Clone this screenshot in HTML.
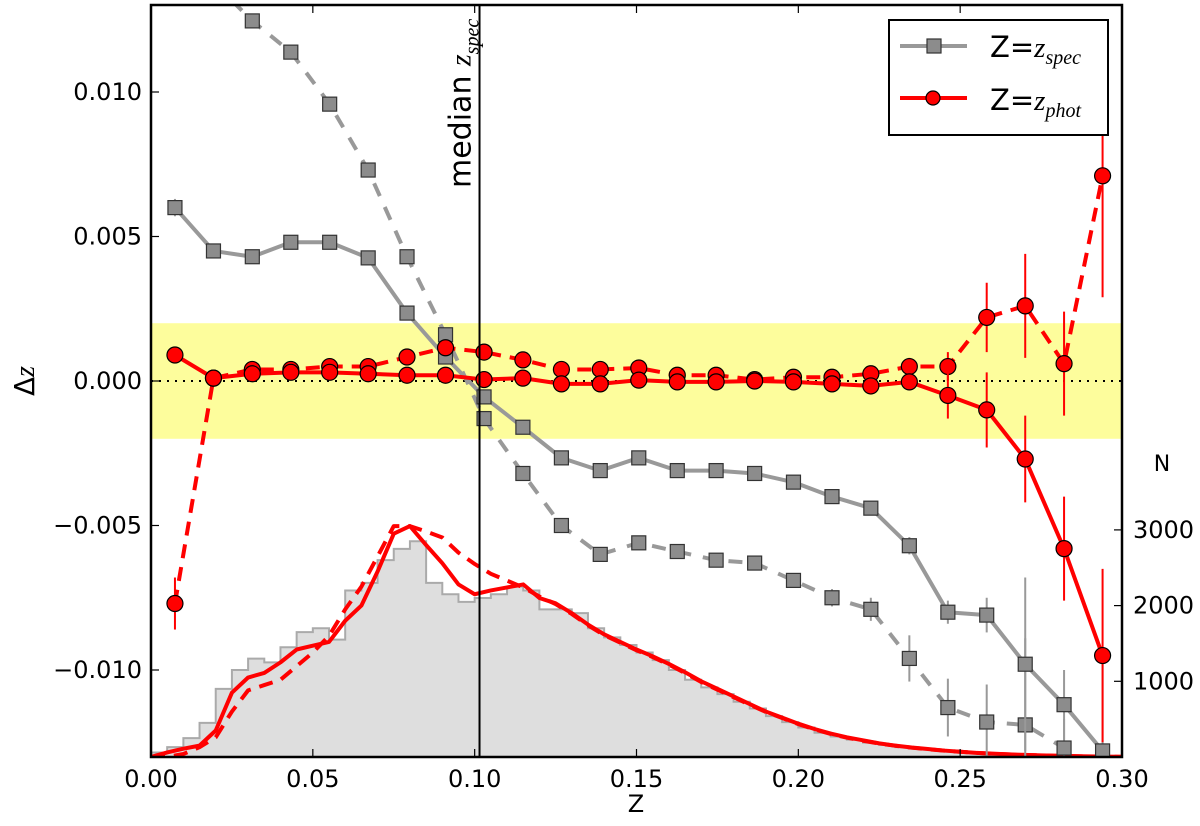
<!DOCTYPE html>
<html><head><meta charset="utf-8"><style>
html,body{margin:0;padding:0;background:#fff;}
svg{display:block;font-family:"DejaVu Sans","Liberation Sans",sans-serif;}
</style></head><body>
<svg id="chart" width="1200" height="826" viewBox="0 0 1200 826" xmlns="http://www.w3.org/2000/svg"></svg>
<script>
const zBins = [0.0074,0.0193,0.0313,0.0432,0.0552,0.0671,0.0791,0.0910,0.1029,0.1149,0.1268,0.1388,0.1507,0.1626,0.1746,0.1865,0.1985,0.2104,0.2224,0.2343,0.2462,0.2582,0.2701,0.2821,0.2940];
const specSolid = [0.0060,0.0045,0.0043,0.0048,0.0048,0.00426,0.00235,0.00083,-0.00055,-0.0016,-0.00266,-0.0031,-0.00266,-0.0031,-0.0031,-0.0032,-0.0035,-0.0040,-0.0044,-0.0057,-0.0080,-0.0081,-0.0098,-0.0112,-0.0128];
const specSolidErr = [0.0003,0.0001,0.0001,0.0001,0.0001,0.0001,0.0001,0.0001,0.0001,0.0001,0.0001,0.0001,0.0001,0.0001,0.0001,0.0001,0.0001,0.0002,0.0002,0.0003,0.0004,0.0006,0.003,0.0012,0.003];
const specDashed = [0.0150,0.0138,0.01246,0.01138,0.00958,0.0073,0.0043,0.0016,-0.0013,-0.0032,-0.005,-0.006,-0.0056,-0.0059,-0.0062,-0.0063,-0.0069,-0.0075,-0.0079,-0.0096,-0.0113,-0.0118,-0.0119,-0.0127,-0.0140];
const specDashedErr = [0.0001,0.0001,0.0001,0.0001,0.0001,0.0001,0.0001,0.0001,0.0001,0.0001,0.0001,0.0001,0.0001,0.0001,0.0002,0.0002,0.0002,0.0003,0.0004,0.0008,0.001,0.0013,0.003,0.001,0.001];
const photSolid = [0.0009,0.0001,0.00025,0.0003,0.0003,0.00025,0.0002,0.0002,0.00005,0.0001,-0.0001,-0.0001,0.00003,-0.00003,-0.00003,0,-0.00003,-0.0001,-0.00017,-0.00003,-0.0005,-0.001,-0.0027,-0.0058,-0.0095];
const photSolidErr = [0.0002,0.0001,0.0001,0.0001,0.0001,0.0001,0.0001,0.0001,0.0001,0.0001,0.0001,0.0001,0.0001,0.0001,0.0001,0.0001,0.0001,0.0002,0.0003,0.0003,0.0008,0.0013,0.0015,0.0018,0.003];
const photDashed = [-0.0077,0.0001,0.0004,0.0004,0.0005,0.0005,0.00083,0.00115,0.001,0.00073,0.0004,0.0004,0.00045,0.0002,0.0002,0.00005,0.00013,0.00013,0.00025,0.0005,0.0005,0.0022,0.0026,0.0006,0.0071];
const photDashedErr = [0.0009,0.0001,0.0001,0.0001,0.0001,0.0001,0.0001,0.0001,0.0001,0.0001,0.0001,0.0001,0.0001,0.0001,0.0001,0.0001,0.0001,0.0001,0.0002,0.0003,0.0005,0.0012,0.0018,0.0018,0.0042];
const histEdges0 = 0.0, histWidth = 0.005;
const histSpec = [60,130,250,450,900,1150,1300,1250,1450,1650,1700,1550,2200,2300,2600,2750,2850,2300,2150,2050,2100,2150,2250,2200,1950,1950,1900,1700,1580,1480,1380,1280,1150,1020,920,830,730,640,540,460,390,320,270,230,190,160,130,110,95,80,65,50,40,32,25,20,15,10,8,5];
const curveZ = [0,0.005,0.01,0.015,0.02,0.025,0.03,0.035,0.04,0.045,0.05,0.055,0.06,0.065,0.07,0.075,0.08,0.085,0.09,0.095,0.1,0.105,0.11,0.115,0.12,0.125,0.13,0.135,0.14,0.145,0.15,0.155,0.16,0.165,0.17,0.175,0.18,0.185,0.19,0.195,0.2,0.205,0.21,0.215,0.22,0.225,0.23,0.235,0.24,0.245,0.25,0.255,0.26,0.265,0.27,0.275,0.28,0.285,0.29,0.295,0.3];
const nPhotSolid = [0,60,110,150,350,850,1050,1110,1250,1420,1470,1520,1800,2000,2450,2950,3050,2800,2560,2280,2150,2200,2240,2280,2100,2030,1900,1750,1620,1520,1420,1330,1230,1120,1000,900,800,700,600,520,440,370,310,260,220,180,150,125,105,85,70,55,45,35,28,22,16,12,8,5,3];
const nPhotDashed = [0,0,40,130,260,600,880,950,1020,1200,1380,1600,1950,2250,2650,3050,3050,2980,2900,2700,2550,2420,2330,2240,2120,2020,1890,1740,1610,1510,1410,1320,1220,1110,990,890,790,690,595,515,435,365,305,255,215,178,148,123,103,84,69,54,44,34,27,21,15,11,7,4,2];
const xTicks = [0,0.05,0.10,0.15,0.20,0.25,0.30];
const xTickLabels = ["0.00","0.05","0.10","0.15","0.20","0.25","0.30"];
const yTicks = [-0.010,-0.005,0,0.005,0.010];
const yTickLabels = ["\u22120.010","\u22120.005","0.000","0.005","0.010"];
const nTicks = [1000,2000,3000];
const nTickLabels = ["1000","2000","3000"];
const medianZ = 0.1015;
const band = 0.002;

const L=151,R=1122,T=5,B=757;
const X=z=>L+(z-0)/0.30*(R-L);
const Y=v=>381-v*28.9*1000;
const NY=n=>B-n*0.0757;
const svg=document.getElementById('chart');
const NS='http://www.w3.org/2000/svg';
function mk(tag,attrs,parent){const e=document.createElementNS(NS,tag);for(const k in attrs)e.setAttribute(k,attrs[k]);(parent||svg).appendChild(e);return e;}

const defs=mk('defs',{});
const cp=mk('clipPath',{id:'clip'},defs);
mk('rect',{x:L,y:T,width:R-L,height:B-T},cp);
const plot=mk('g',{'clip-path':'url(#clip)'});



let el=mk('rect',{x:L,y:Y(band),width:R-L,height:Y(-band)-Y(band),fill:'#fdfd9c'},plot);



let d='M'+X(histEdges0)+','+B;
histSpec.forEach((n,i)=>{const x0=X(histEdges0+i*histWidth),x1=X(histEdges0+(i+1)*histWidth);d+=' L'+x0+','+NY(n)+' L'+x1+','+NY(n);});
d+=' L'+X(histEdges0+histSpec.length*histWidth)+','+B+' Z';
el=mk('path',{d:d,fill:'#dedede',stroke:'#aaa','stroke-width':2},plot);



function curve(arr,name,dash){const p=arr.map((n,i)=>X(curveZ[i])+','+NY(n)).join(' L');
 const e=mk('path',{d:'M'+p,fill:'none',stroke:'#f00','stroke-width':4,'stroke-dasharray':dash||'none','stroke-linejoin':'round'},plot);
 
 }
curve(nPhotDashed,'histogram-zphot-dashed','14,9');
curve(nPhotSolid,'histogram-zphot-solid');

el=mk('line',{x1:L,x2:R,y1:Y(0),y2:Y(0),stroke:'#000','stroke-width':2,'stroke-dasharray':'2,6'},plot);



function series(vals,errs,color,lineColor,dash,marker,name){
 const g=mk('g',{},plot);
 
 
 vals.forEach((v,i)=>{const e=mk('line',{x1:X(zBins[i]),x2:X(zBins[i]),y1:Y(v+errs[i]),y2:Y(v-errs[i]),stroke:lineColor,'stroke-width':2},g);
  
  });
 const p=vals.map((v,i)=>X(zBins[i])+','+Y(v)).join(' L');
 const ln=mk('path',{d:'M'+p,fill:'none',stroke:lineColor,'stroke-width':4,'stroke-dasharray':dash||'none','stroke-linejoin':'round'},g);
 
 
 vals.forEach((v,i)=>{let m;
  if(marker==='sq') m=mk('rect',{x:X(zBins[i])-7,y:Y(v)-7,width:14,height:14,fill:'#8c8c8c',stroke:'#333','stroke-width':1.2},g);
  else m=mk('circle',{cx:X(zBins[i]),cy:Y(v),r:8,fill:'#f00',stroke:'#000','stroke-width':1.2},g);
  
  });
}
series(specDashed,specDashedErr,'#888','#999','14,12','sq','zspec-dashed-series');
series(specSolid,specSolidErr,'#888','#999',null,'sq','zspec-solid-series');
series(photDashed,photDashedErr,'#f00','#f00','14,9','ci','zphot-dashed-series');
series(photSolid,photSolidErr,'#f00','#f00',null,'ci','zphot-solid-series');

el=mk('line',{x1:X(medianZ),x2:X(medianZ),y1:T,y2:B,stroke:'#000','stroke-width':2});


el=mk('text',{transform:'translate('+(X(medianZ)-9)+',188) rotate(-90)','font-size':30,fill:'#000'});
el.innerHTML='median <tspan font-family="Liberation Serif, serif" font-style="italic">z</tspan><tspan font-family="Liberation Serif, serif" font-style="italic" font-size="20" dy="8">spec</tspan>';



el=mk('rect',{x:L,y:T,width:R-L,height:B-T,fill:'none',stroke:'#000','stroke-width':2.5});



xTicks.forEach((t,i)=>{mk('line',{x1:X(t),x2:X(t),y1:B,y2:B-8,stroke:'#000','stroke-width':1.2});
 mk('line',{x1:X(t),x2:X(t),y1:T,y2:T+8,stroke:'#000','stroke-width':1.2});
 const tx=mk('text',{x:X(t),y:B+30,'font-size':24,'text-anchor':'middle'});tx.textContent=xTickLabels[i];
 
 });
yTicks.forEach((t,i)=>{mk('line',{x1:L,x2:L+8,y1:Y(t),y2:Y(t),stroke:'#000','stroke-width':1.2});
 const tx=mk('text',{x:L-9,y:Y(t)+8,'font-size':24,'text-anchor':'end'});tx.textContent=yTickLabels[i];
 
 });
nTicks.forEach((t,i)=>{mk('line',{x1:R,x2:R-8,y1:NY(t),y2:NY(t),stroke:'#000','stroke-width':1.2});
 const tx=mk('text',{x:R+11,y:NY(t)+8,'font-size':24,'text-anchor':'start'});tx.textContent=nTickLabels[i];
 
 });

el=mk('text',{x:636,y:812,'font-size':24,'text-anchor':'middle'});el.textContent='Z';


el=mk('text',{transform:'translate(34,381) rotate(-90)','font-size':28,'text-anchor':'middle'});
el.innerHTML='\u0394<tspan font-family="Liberation Serif, serif" font-style="italic">z</tspan>';


el=mk('text',{x:1162,y:471,'font-size':22,'text-anchor':'middle'});el.textContent='N';



const lg=mk('g',{});


mk('rect',{x:889,y:20,width:219,height:115,fill:'#fff',stroke:'#000','stroke-width':2},lg);
mk('line',{x1:900,x2:967,y1:46,y2:46,stroke:'#999','stroke-width':4},lg);
mk('rect',{x:927,y:39,width:14,height:14,fill:'#8c8c8c',stroke:'#333','stroke-width':1.2},lg);
mk('line',{x1:900,x2:967,y1:98,y2:98,stroke:'#f00','stroke-width':4},lg);
mk('circle',{cx:933,cy:98,r:7,fill:'#f00',stroke:'#000','stroke-width':1.2},lg);
el=mk('text',{x:990,y:57,'font-size':29},lg);
el.innerHTML='Z=<tspan font-family="Liberation Serif, serif" font-style="italic">z</tspan><tspan font-family="Liberation Serif, serif" font-style="italic" font-size="20" dy="7">spec</tspan>';


el=mk('text',{x:990,y:110,'font-size':29},lg);
el.innerHTML='Z=<tspan font-family="Liberation Serif, serif" font-style="italic">z</tspan><tspan font-family="Liberation Serif, serif" font-style="italic" font-size="20" dy="7">phot</tspan>';


</script>
</body></html>
